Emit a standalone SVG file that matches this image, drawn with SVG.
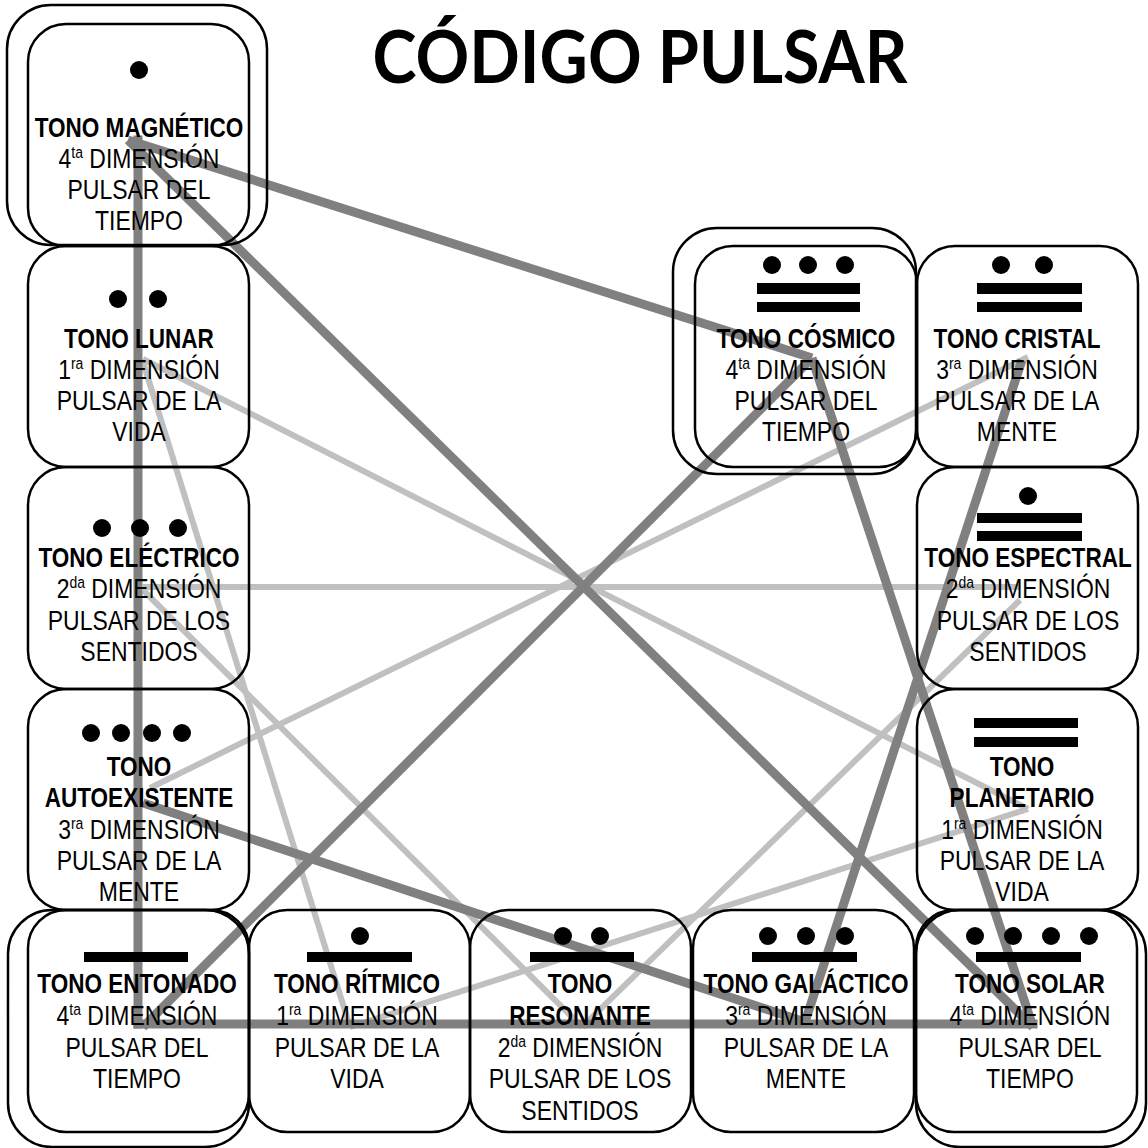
<svg xmlns="http://www.w3.org/2000/svg" width="1148" height="1148" viewBox="0 0 1148 1148">
<style>
.box{fill:none;stroke:#000;stroke-width:2.5}
.g{fill:#000}
text{font-family:"Liberation Sans",Arial,sans-serif;font-size:28px;text-anchor:middle;fill:#000}
.b{font-weight:bold;font-size:27.5px}
.sup{font-size:17px}
.title{font-family:Lato,"Open Sans","Noto Sans",sans-serif;font-weight:bold;font-size:72px}
.dk{stroke:#808080;stroke-width:9;fill:none}
.lt{stroke:#c0c0c0;stroke-width:6;fill:none}
</style>
<rect width="1148" height="1148" fill="#fff"/>
<g id="connectors">
<line class="lt" x1="143" y1="359" x2="1028" y2="809"/>
<line class="lt" x1="143" y1="362" x2="350" y2="1027"/>
<line class="lt" x1="350" y1="1027" x2="1028" y2="809"/>
<line class="lt" x1="143" y1="587" x2="1020" y2="587"/>
<line class="lt" x1="143" y1="590" x2="582" y2="1027"/>
<line class="lt" x1="582" y1="1027" x2="1020" y2="600"/>
<line class="lt" x1="150" y1="788" x2="1028" y2="357"/>
<line class="dk" x1="138" y1="140" x2="138" y2="1024" stroke-linecap="square"/>
<line class="dk" x1="138" y1="1024" x2="1033" y2="1024" stroke-linecap="square"/>
<line class="dk" x1="128" y1="140" x2="812" y2="358"/>
<line class="dk" x1="128" y1="140" x2="1033" y2="1027"/>
<line class="dk" x1="812" y1="358" x2="143" y2="1027"/>
<line class="dk" x1="812" y1="358" x2="1033" y2="1027"/>
<line class="dk" x1="143" y1="803" x2="805" y2="1022"/>
<line class="dk" x1="1022" y1="360" x2="805" y2="1022"/>
</g>
<text class="title" x="640" y="83" textLength="535" lengthAdjust="spacingAndGlyphs">CÓDIGO PULSAR</text>
<g id="magnetico">
<rect class="box" x="7" y="5" width="260" height="240" rx="44"/>
<rect class="box" x="28" y="24" width="221" height="222" rx="38"/>
<circle class="g" cx="139" cy="70" r="9"/>
<g transform="matrix(0.82 0 0 1 25.02 0)">
<text class="b" x="139" y="137">TONO MAGNÉTICO</text>
<text x="139" y="168">4<tspan class="sup" dy="-10">ta</tspan><tspan dy="10"> DIMENSIÓN</tspan></text>
<text x="139" y="199">PULSAR DEL</text>
<text x="139" y="230">TIEMPO</text>
</g>
</g>
<g id="lunar">
<rect class="box" x="28" y="246" width="221" height="221" rx="38"/>
<circle class="g" cx="118" cy="299" r="9"/>
<circle class="g" cx="158" cy="299" r="9"/>
<g transform="matrix(0.82 0 0 1 25.02 0)">
<text class="b" x="139" y="348">TONO LUNAR</text>
<text x="139" y="379">1<tspan class="sup" dy="-10">ra</tspan><tspan dy="10"> DIMENSIÓN</tspan></text>
<text x="139" y="410">PULSAR DE LA</text>
<text x="139" y="441">VIDA</text>
</g>
</g>
<g id="electrico">
<rect class="box" x="28" y="467" width="221" height="222" rx="38"/>
<circle class="g" cx="102" cy="528" r="9"/>
<circle class="g" cx="140" cy="528" r="9"/>
<circle class="g" cx="178" cy="528" r="9"/>
<g transform="matrix(0.82 0 0 1 25.02 0)">
<text class="b" x="139" y="567">TONO ELÉCTRICO</text>
<text x="139" y="598">2<tspan class="sup" dy="-10">da</tspan><tspan dy="10"> DIMENSIÓN</tspan></text>
<text x="139" y="630">PULSAR DE LOS</text>
<text x="139" y="661">SENTIDOS</text>
</g>
</g>
<g id="autoexistente">
<rect class="box" x="28" y="689" width="221" height="221" rx="38"/>
<circle class="g" cx="91" cy="733" r="9"/>
<circle class="g" cx="121" cy="733" r="9"/>
<circle class="g" cx="152" cy="733" r="9"/>
<circle class="g" cx="182" cy="733" r="9"/>
<g transform="matrix(0.82 0 0 1 25.02 0)">
<text class="b" x="139" y="776">TONO</text>
<text class="b" x="139" y="807">AUTOEXISTENTE</text>
<text x="139" y="839">3<tspan class="sup" dy="-10">ra</tspan><tspan dy="10"> DIMENSIÓN</tspan></text>
<text x="139" y="870">PULSAR DE LA</text>
<text x="139" y="901">MENTE</text>
</g>
</g>
<g id="entonado">
<rect class="box" x="8" y="910" width="241" height="237" rx="44"/>
<rect class="box" x="28" y="910" width="221" height="222" rx="38"/>
<rect class="g" x="84" y="952" width="104" height="10"/>
<g transform="matrix(0.82 0 0 1 24.66 0)">
<text class="b" x="137" y="993">TONO ENTONADO</text>
<text x="137" y="1025">4<tspan class="sup" dy="-10">ta</tspan><tspan dy="10"> DIMENSIÓN</tspan></text>
<text x="137" y="1057">PULSAR DEL</text>
<text x="137" y="1088">TIEMPO</text>
</g>
</g>
<g id="ritmico">
<rect class="box" x="249" y="910" width="221" height="222" rx="38"/>
<circle class="g" cx="360" cy="936" r="9"/>
<rect class="g" x="307" y="952" width="105" height="10"/>
<g transform="matrix(0.82 0 0 1 64.26 0)">
<text class="b" x="357" y="993">TONO RÍTMICO</text>
<text x="357" y="1025">1<tspan class="sup" dy="-10">ra</tspan><tspan dy="10"> DIMENSIÓN</tspan></text>
<text x="357" y="1057">PULSAR DE LA</text>
<text x="357" y="1088">VIDA</text>
</g>
</g>
<g id="resonante">
<rect class="box" x="470" y="910" width="221" height="222" rx="38"/>
<circle class="g" cx="563" cy="936" r="9"/>
<circle class="g" cx="600" cy="936" r="9"/>
<rect class="g" x="530" y="952" width="104" height="10"/>
<g transform="matrix(0.82 0 0 1 104.4 0)">
<text class="b" x="580" y="993">TONO</text>
<text class="b" x="580" y="1025">RESONANTE</text>
<text x="580" y="1057">2<tspan class="sup" dy="-10">da</tspan><tspan dy="10"> DIMENSIÓN</tspan></text>
<text x="580" y="1088">PULSAR DE LOS</text>
<text x="580" y="1120">SENTIDOS</text>
</g>
</g>
<g id="galactico">
<rect class="box" x="693" y="910" width="221" height="222" rx="38"/>
<circle class="g" cx="768" cy="936" r="9"/>
<circle class="g" cx="806" cy="936" r="9"/>
<circle class="g" cx="845" cy="936" r="9"/>
<rect class="g" x="752" y="952" width="105" height="10"/>
<g transform="matrix(0.82 0 0 1 145.08 0)">
<text class="b" x="806" y="993">TONO GALÁCTICO</text>
<text x="806" y="1025">3<tspan class="sup" dy="-10">ra</tspan><tspan dy="10"> DIMENSIÓN</tspan></text>
<text x="806" y="1057">PULSAR DE LA</text>
<text x="806" y="1088">MENTE</text>
</g>
</g>
<g id="solar">
<rect class="box" x="916" y="910" width="230" height="237" rx="44"/>
<rect class="box" x="916" y="910" width="221" height="222" rx="38"/>
<circle class="g" cx="975" cy="936" r="9"/>
<circle class="g" cx="1013" cy="936" r="9"/>
<circle class="g" cx="1051" cy="936" r="9"/>
<circle class="g" cx="1089" cy="936" r="9"/>
<rect class="g" x="976" y="952" width="105" height="10"/>
<g transform="matrix(0.82 0 0 1 185.4 0)">
<text class="b" x="1030" y="993">TONO SOLAR</text>
<text x="1030" y="1025">4<tspan class="sup" dy="-10">ta</tspan><tspan dy="10"> DIMENSIÓN</tspan></text>
<text x="1030" y="1057">PULSAR DEL</text>
<text x="1030" y="1088">TIEMPO</text>
</g>
</g>
<g id="cosmico">
<rect class="box" x="673" y="228" width="243" height="246" rx="44"/>
<rect class="box" x="695" y="246" width="222" height="221" rx="38"/>
<circle class="g" cx="772" cy="265" r="9"/>
<circle class="g" cx="808" cy="265" r="9"/>
<circle class="g" cx="845" cy="265" r="9"/>
<rect class="g" x="757" y="283" width="103" height="11"/>
<rect class="g" x="757" y="302" width="103" height="10"/>
<g transform="matrix(0.82 0 0 1 145.08 0)">
<text class="b" x="806" y="348">TONO CÓSMICO</text>
<text x="806" y="379">4<tspan class="sup" dy="-10">ta</tspan><tspan dy="10"> DIMENSIÓN</tspan></text>
<text x="806" y="410">PULSAR DEL</text>
<text x="806" y="441">TIEMPO</text>
</g>
</g>
<g id="cristal">
<rect class="box" x="917" y="246" width="221" height="221" rx="38"/>
<circle class="g" cx="1001" cy="265" r="9"/>
<circle class="g" cx="1044" cy="265" r="9"/>
<rect class="g" x="977" y="283" width="105" height="11"/>
<rect class="g" x="977" y="302" width="105" height="10"/>
<g transform="matrix(0.82 0 0 1 183.06 0)">
<text class="b" x="1017" y="348">TONO CRISTAL</text>
<text x="1017" y="379">3<tspan class="sup" dy="-10">ra</tspan><tspan dy="10"> DIMENSIÓN</tspan></text>
<text x="1017" y="410">PULSAR DE LA</text>
<text x="1017" y="441">MENTE</text>
</g>
</g>
<g id="espectral">
<rect class="box" x="917" y="467" width="221" height="222" rx="38"/>
<circle class="g" cx="1028" cy="496" r="9"/>
<rect class="g" x="977" y="513" width="105" height="10"/>
<rect class="g" x="977" y="531" width="105" height="10"/>
<g transform="matrix(0.82 0 0 1 185.04 0)">
<text class="b" x="1028" y="567">TONO ESPECTRAL</text>
<text x="1028" y="598">2<tspan class="sup" dy="-10">da</tspan><tspan dy="10"> DIMENSIÓN</tspan></text>
<text x="1028" y="630">PULSAR DE LOS</text>
<text x="1028" y="661">SENTIDOS</text>
</g>
</g>
<g id="planetario">
<rect class="box" x="917" y="689" width="221" height="221" rx="38"/>
<rect class="g" x="974" y="718" width="104" height="10"/>
<rect class="g" x="974" y="737" width="104" height="10"/>
<g transform="matrix(0.82 0 0 1 183.96 0)">
<text class="b" x="1022" y="776">TONO</text>
<text class="b" x="1022" y="807">PLANETARIO</text>
<text x="1022" y="839">1<tspan class="sup" dy="-10">ra</tspan><tspan dy="10"> DIMENSIÓN</tspan></text>
<text x="1022" y="870">PULSAR DE LA</text>
<text x="1022" y="901">VIDA</text>
</g>
</g>
</svg>
